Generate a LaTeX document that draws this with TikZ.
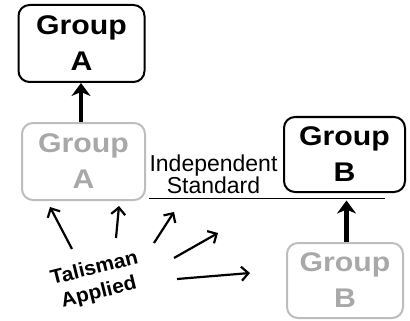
\documentclass[tikz,border=0pt]{standalone}
\usepackage{fontspec}
\setmainfont{Liberation Sans}
\newfontfamily\gfont[FakeStretch=1.12]{Liberation Sans Bold}
\newfontfamily\tfont[FakeStretch=1.05]{Liberation Sans Bold}
\usetikzlibrary{arrows.meta}
\definecolor{lgray}{HTML}{BDBDBD}
\definecolor{tgray}{HTML}{A8A8A8}
\tikzset{
  gbox/.style={draw=black, line width=2pt, rounded corners=11pt, align=center, inner sep=0pt,
    font=\gfont\fontsize{27}{36}\selectfont},
  gboxfaint/.style={gbox, draw=lgray, text=tgray},
  thick arrow/.style={line width=4.5pt, -{Stealth[length=13pt,width=19pt,inset=4pt]}},
  thin arrow/.style={line width=2.2pt, -{Straight Barb[length=7pt,width=14pt]}},
  tal/.style={inner sep=0pt, rotate=14, font=\tfont\fontsize{20}{24}\selectfont},
}
\begin{document}
\begin{tikzpicture}[x=1pt,y=-1pt]
\useasboundingbox (0,0) rectangle (410,321);
\node[gbox, minimum width=126pt, minimum height=77pt] (A1) at (81.5,43.5) {Group\\A};
\node[gboxfaint, minimum width=123pt, minimum height=77pt] (A0) at (83.5,161.5) {Group\\A};
\node[gbox, minimum width=121pt, minimum height=75pt] (B1) at (344.5,154.5) {Group\\B};
\node[gboxfaint, minimum width=116pt, minimum height=75pt] (B0) at (345,280.5) {Group\\B};
\node[align=center, inner sep=0pt, font=\fontsize{23}{22}\selectfont] (std) at (213.5,174) {Independent\\Standard};
\coordinate (L1) at (149,198.5);
\coordinate (L2) at (385,198.5);
\draw[line width=1.2pt] (L1) -- (L2);
\coordinate (Bt) at (346.5,200.5);
\draw[thick arrow] (A0.north -| 81,0) -- (A1.south -| 81,0);
\draw[thick arrow] (B0.north -| Bt) -- (Bt);
\node[tal] (tal1) at (94,267) {Talisman};
\node[tal] (tal2) at (99,293) {Applied};
\coordinate (t1) at (72,249); \coordinate (h1) at (50,207);
\coordinate (t2) at (116,238); \coordinate (h2) at (119,206);
\coordinate (t3) at (154,243); \coordinate (h3) at (174,212);
\coordinate (t4) at (174,258); \coordinate (h4) at (218,233);
\coordinate (t5) at (177,279); \coordinate (h5) at (250,273);
\foreach \i in {1,...,5} \draw[thin arrow] (t\i) -- (h\i);
\end{tikzpicture}
\end{document}
